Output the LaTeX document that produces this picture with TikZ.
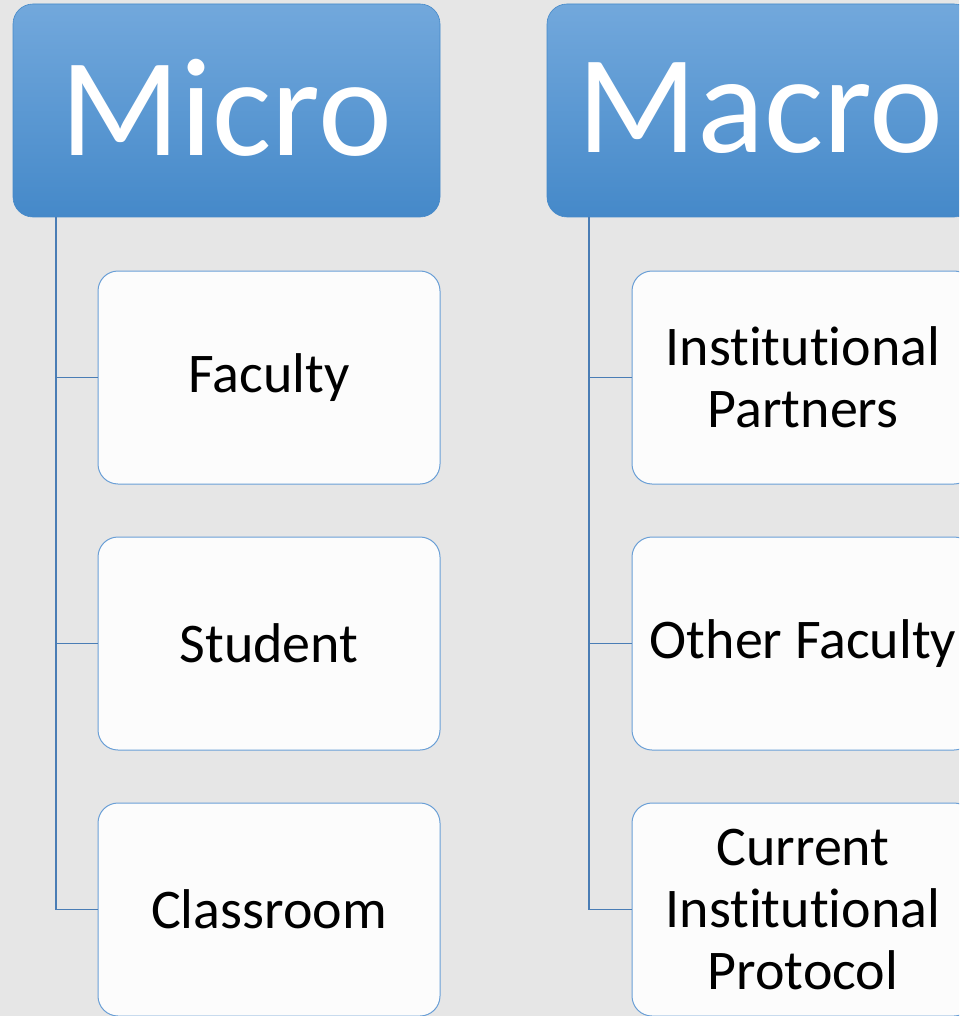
\documentclass[tikz,border=0pt]{standalone}
\usepackage{fontspec}
\setmainfont{Carlito}[Ligatures={NoCommon}]
\definecolor{bgGrey}{HTML}{E6E6E6}
\definecolor{headTop}{HTML}{72A8DC}
\definecolor{headBot}{HTML}{4589C9}
\definecolor{cardEdge}{HTML}{6A9FD6}
\definecolor{cardFill}{HTML}{FCFCFC}
\definecolor{linkCol}{HTML}{4A7DB5}
\begin{document}
\begin{tikzpicture}[x=1pt,y=-1pt,
  headbox/.style={rounded corners=20pt, top color=headTop, bottom color=headBot,
    draw=headBot, line width=0.6pt, minimum width=427pt, minimum height=213pt,
    inner sep=0pt, text=white, font=\fontsize{140}{140}\selectfont},
  cardbox/.style={rounded corners=20pt, draw=cardEdge, fill=cardFill, line width=1pt,
    minimum width=342pt, minimum height=213pt, inner sep=0pt, align=center,
    text=black, font=\fontsize{56}{62}\selectfont},
  link/.style={draw=linkCol, line width=1.8pt}]
  % page background and frame
  \fill[bgGrey] (0,0) rectangle (959,1016);
  \clip (0,0) rectangle (959,1016);

  % column headers
  \node[headbox] (micro) at (226.5,110.5) {\raisebox{6pt}{Micro}};
  \node[headbox] (macro) at (760.5,110.5) {\raisebox{6pt}{Macro}};

  % micro column
  \node[cardbox] (faculty) at (269,377.5) {Faculty};
  \node[cardbox] (student) at (269,643.5) {Student};
  \node[cardbox] (classroom) at (269,909.5) {Classroom};

  % macro column
  \node[cardbox] (partners) at (803,377.5) {Institutional\\Partners};
  \node[cardbox] (otherfac) at (803,643.5) {Other Faculty};
  \node[cardbox] (protocol) at (803,909.5) {Current\\Institutional\\Protocol};

  % tree connectors
  \coordinate (microroot) at ([xshift=43pt]micro.south west);
  \coordinate (macroroot) at ([xshift=42pt]macro.south west);
  \draw[link] (microroot) |- (faculty.west);
  \draw[link] (microroot) |- (student.west);
  \draw[link] (microroot) |- (classroom.west);
  \draw[link] (macroroot) |- (partners.west);
  \draw[link] (macroroot) |- (otherfac.west);
  \draw[link] (macroroot) |- (protocol.west);
\end{tikzpicture}
\end{document}
